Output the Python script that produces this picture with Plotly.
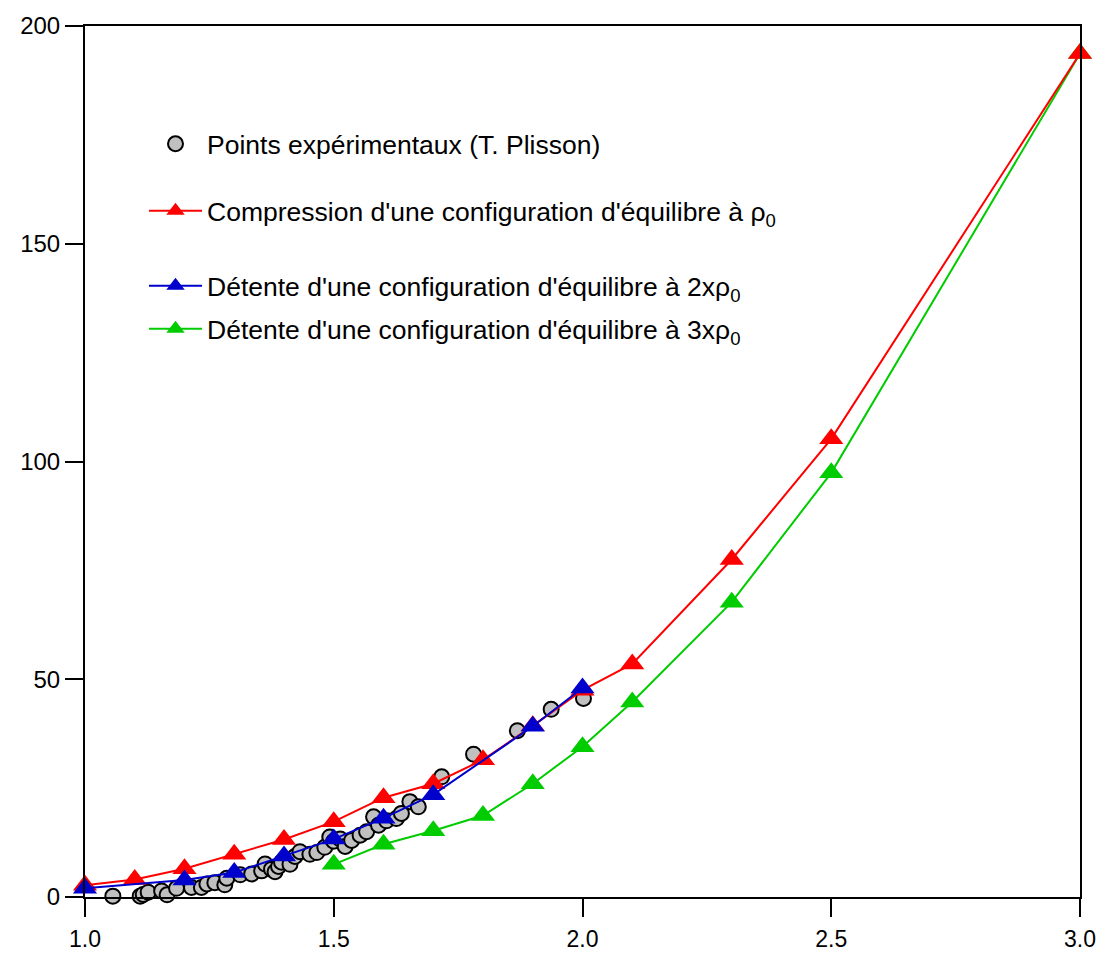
import plotly.graph_objects as go

# Experimental points (T. Plisson)
exp_x = [1.056, 1.111, 1.117, 1.127, 1.154, 1.165, 1.184, 1.214, 1.234, 1.245,
         1.261, 1.281, 1.285, 1.312, 1.335, 1.355, 1.362, 1.375, 1.382, 1.389,
         1.395, 1.412, 1.422, 1.432, 1.452, 1.466, 1.482, 1.492, 1.500, 1.513,
         1.523, 1.536, 1.553, 1.566, 1.580, 1.590, 1.606, 1.626, 1.636, 1.653,
         1.670, 1.717, 1.781, 1.869, 1.937, 2.002]
exp_y = [0.2, 0.2, 0.6, 1.1, 1.4, 0.5, 2.0, 2.2, 2.2, 3.0,
         3.3, 2.8, 4.3, 5.1, 5.3, 6.0, 7.6, 6.4, 5.8, 7.0,
         8.0, 7.5, 9.3, 10.4, 9.8, 10.2, 11.4, 13.8, 12.8, 13.3,
         11.6, 13.0, 14.2, 15.0, 18.4, 16.5, 17.5, 18.0, 19.2, 21.9,
         20.7, 27.6, 32.8, 38.2, 43.1, 45.6]

# Compression from equilibrium configuration at rho0
red_x = [1.0, 1.1, 1.2, 1.3, 1.4, 1.5, 1.6, 1.7, 1.8, 1.9, 2.0, 2.1, 2.3, 2.5, 3.0]
red_y = [2.7, 4.0, 6.5, 9.8, 13.2, 17.3, 22.8, 26.0, 31.5, 39.3, 47.5, 53.5, 77.5, 105.2, 193.7]

# Expansion from equilibrium configuration at 2 x rho0
blue_x = [1.0, 1.2, 1.3, 1.4, 1.5, 1.6, 1.7, 1.9, 2.0]
blue_y = [2.0, 3.9, 5.6, 9.4, 13.3, 18.1, 23.5, 39.2, 48.0]

# Expansion from equilibrium configuration at 3 x rho0
green_x = [1.5, 1.6, 1.7, 1.8, 1.9, 2.0, 2.1, 2.3, 2.5, 3.0]
green_y = [7.5, 12.1, 15.2, 18.7, 26.0, 34.5, 44.8, 67.7, 97.4, 193.7]

x_ticks = [1.0, 1.5, 2.0, 2.5, 3.0]
y_ticks = [0, 50, 100, 150, 200]

FONT = "Liberation Sans, Arial, sans-serif"
RED = "#FF0000"
BLUE = "#0000CC"
GREEN = "#00CC00"
TRI = 21

fig = go.Figure()

fig.add_trace(go.Scatter(
    x=exp_x, y=exp_y, mode="markers",
    name="Points expérimentaux (T. Plisson)",
    marker=dict(symbol="circle", size=15, color="#C0C0C0",
                line=dict(color="black", width=2)),
    cliponaxis=False, legend="legend",
))
fig.add_trace(go.Scatter(
    x=green_x, y=green_y, mode="lines+markers",
    name="Détente d'une configuration d'équilibre à 3xρ<sub>0</sub>",
    line=dict(color=GREEN, width=2),
    marker=dict(symbol="triangle-up", size=TRI, color=GREEN),
    cliponaxis=False, legend="legend4",
))
fig.add_trace(go.Scatter(
    x=red_x, y=red_y, mode="lines+markers",
    name="Compression d'une configuration d'équilibre à ρ<sub>0</sub>",
    line=dict(color=RED, width=2),
    marker=dict(symbol="triangle-up", size=TRI, color=RED),
    cliponaxis=False, legend="legend2",
))
fig.add_trace(go.Scatter(
    x=blue_x, y=blue_y, mode="lines+markers",
    name="Détente d'une configuration d'équilibre à 2xρ<sub>0</sub>",
    line=dict(color=BLUE, width=2),
    marker=dict(symbol="triangle-up", size=TRI, color=BLUE),
    cliponaxis=False, legend="legend3",
))

# plot area in pixels: x 85..1080, y 26..897
def px2paper_x(px):
    return (px - 85) / 995.0

def px2paper_y(py):
    return (897 - py) / 871.0

leg_common = dict(
    xanchor="left", yanchor="middle",
    bgcolor="rgba(0,0,0,0)", borderwidth=0,
    font=dict(family=FONT, size=26.5, color="black"),
    itemwidth=53,
)

LX = px2paper_x(144)

fig.update_layout(
    width=1101, height=953,
    margin=dict(l=85, r=21, t=26, b=56, autoexpand=False),
    paper_bgcolor="white", plot_bgcolor="white",
    font=dict(family=FONT, size=24, color="black"),
    showlegend=True,
    legend=dict(x=LX, y=px2paper_y(144), **leg_common),
    legend2=dict(x=LX, y=px2paper_y(211), **leg_common),
    legend3=dict(x=LX, y=px2paper_y(286), **leg_common),
    legend4=dict(x=LX, y=px2paper_y(329), **leg_common),
    xaxis=dict(
        range=[1.0, 3.0], tickvals=x_ticks, tickformat=".1f",
        showgrid=False, zeroline=False, automargin=False,
        showline=True, linecolor="black", linewidth=2, mirror=True,
        ticks="outside", ticklen=18, tickwidth=2, tickcolor="black",
        ticklabelstandoff=2,
        tickfont=dict(family=FONT, size=23, color="black"),
    ),
    yaxis=dict(
        range=[0, 200], tickvals=y_ticks,
        showgrid=False, zeroline=False, automargin=False,
        showline=True, linecolor="black", linewidth=2, mirror=True,
        ticks="outside", ticklen=18, tickwidth=2, tickcolor="black",
        tickfont=dict(family=FONT, size=24, color="black"),
    ),
)

fig.write_html("out.html",
               config={"displayModeBar": False},
               post_script="document.body.style.margin='0px';")
